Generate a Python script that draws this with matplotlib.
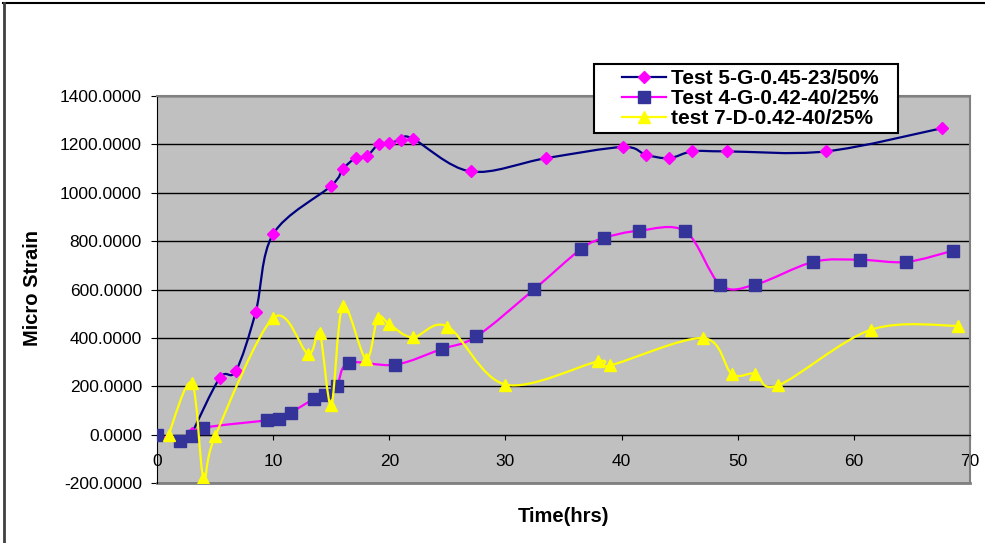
import matplotlib
matplotlib.use("Agg")
import matplotlib.pyplot as plt
from matplotlib.path import Path
from matplotlib.patches import PathPatch, Rectangle
from matplotlib.lines import Line2D
import numpy as np

plt.rcParams['font.family'] = ['Liberation Sans', 'DejaVu Sans']

# strain readings, time in hrs
t5 = [3.0, 5.4, 6.8, 8.5, 10.0, 15.0, 16.0, 17.1, 18.1, 19.1, 20.0, 21.0, 22.0,
      27.0, 33.5, 40.1, 42.1, 44.1, 46.1, 49.1, 57.6, 67.6]
s5 = [5, 234, 264, 507, 829, 1029, 1098, 1143, 1153, 1202, 1205, 1219, 1224,
      1088, 1143, 1189, 1157, 1143, 1171, 1171, 1171, 1267]

t4 = [0.0, 2.0, 3.0, 4.0, 9.5, 10.5, 11.5, 13.5, 14.5, 15.5, 16.5, 20.5, 24.5,
      27.5, 32.5, 36.5, 38.5, 41.5, 45.5, 48.5, 51.5, 56.5, 60.5, 64.5, 68.5]
s4 = [0, -28, -7, 28, 59, 65, 90, 147, 162, 202, 296, 289, 354,
      406, 602, 767, 813, 843, 840, 620, 620, 714, 723, 714, 760]

t7 = [1.0, 3.0, 4.0, 5.0, 10.0, 13.0, 14.0, 15.0, 16.0, 18.0, 19.0, 20.0, 22.0,
      25.0, 30.0, 38.0, 39.0, 47.0, 49.5, 51.5, 53.5, 61.5, 69.0]
s7 = [0, 214, -179, -7, 482, 335, 420, 124, 530, 313, 482, 457, 402,
      447, 207, 303, 286, 399, 251, 252, 204, 434, 450]

labels = ["Test 5-G-0.45-23/50%", "Test 4-G-0.42-40/25%", "test 7-D-0.42-40/25%"]
yticks = list(range(-200, 1401, 200))
xticks = list(range(0, 71, 10))


def smooth_path(x, y):
    # bezier curve through the points (catmull-rom style control points)
    pts = np.column_stack([x, y]).astype(float)
    n = len(pts)
    verts = [pts[0]]
    codes = [Path.MOVETO]
    for i in range(n - 1):
        p0 = pts[i - 1] if i > 0 else pts[i]
        p1 = pts[i]
        p2 = pts[i + 1]
        p3 = pts[i + 2] if i + 2 < n else pts[i + 1]
        verts += [p1 + (p2 - p0) / 6, p2 - (p3 - p1) / 6, p2]
        codes += [Path.CURVE4] * 3
    return Path(verts, codes)


fig = plt.figure(figsize=(9.85, 5.43), dpi=100)
ax = fig.add_axes([157/985, 1 - 483/543, 813/985, 387/543])
ax.set_facecolor("#C0C0C0")

series = [
    (t5, s5, "#000080", "D", "#FF00FF", "#FF00FF", 6.2),
    (t4, s4, "#FF00FF", "s", "#333399", "#333399", 8),
    (t7, s7, "#FFFF00", "^", "#FFFF00", "#FFFF00", 9),
]
handles = []
z = 3
for x, y, lc, mk, mfc, mec, ms in series:
    ax.add_patch(PathPatch(smooth_path(x, y), fill=False, edgecolor=lc, lw=1.6, zorder=z))
    ax.plot(x, y, linestyle="none", marker=mk, mfc=mfc, mec=mec, ms=ms, zorder=z + 0.5)
    handles.append(Line2D([], [], color=lc, lw=1.6, marker=mk, mfc=mfc, mec=mec, ms=ms))
    z += 1

ax.set_xlim(0, 70)
ax.set_ylim(-200, 1400)
ax.set_yticks(yticks)
ax.set_yticklabels([f"{v:.4f}" for v in yticks])
ax.set_xticks(xticks)
ax.yaxis.grid(True, color="black", lw=1)
ax.set_axisbelow(True)

ax.spines["bottom"].set_position(("data", 0))
ax.spines["bottom"].set_color("black")
ax.spines["left"].set_color("black")
for s in ["top", "right"]:
    ax.spines[s].set_color("#808080")
    ax.spines[s].set_linewidth(1.5)
ax.axhline(-200, color="#808080", lw=2, clip_on=False, zorder=2)

ax.tick_params(axis="y", direction="out", length=4.3, pad=6.5, labelsize=12.5, colors="black")
ax.tick_params(axis="x", direction="out", length=3.6, pad=10, labelsize=12.5, colors="black")

fig.text(33/985, 1 - 288/543, "Micro Strain", rotation=90, ha="center", va="center",
         fontsize=14.5, fontweight="bold")
fig.text(564/985, 1 - 517/543, "Time(hrs)", ha="center", va="center",
         fontsize=14.5, fontweight="bold")

# legend box
fig.add_artist(Rectangle((594/985, 1 - 133/543), 304/985, 69/543, transform=fig.transFigure,
                         facecolor="white", edgecolor="black", lw=1.5, zorder=5))
leg = fig.legend(handles, labels, loc="upper left", bbox_to_anchor=(620/985, 1 - 67/543),
                 frameon=False, prop={"weight": "bold", "size": 15}, borderpad=0.1,
                 handlelength=2.1, handletextpad=0.25, labelspacing=0.05, borderaxespad=0)
leg.set_zorder(6)

# chart outline
fig.add_artist(Line2D([3/985, 1], [1 - 3/543, 1 - 3/543], transform=fig.transFigure,
                      color="black", lw=1.5))
fig.add_artist(Line2D([4/985, 4/985], [1 - 3/543, 0], transform=fig.transFigure,
                      color="#404040", lw=2))

fig.savefig("out.png", dpi=100)
